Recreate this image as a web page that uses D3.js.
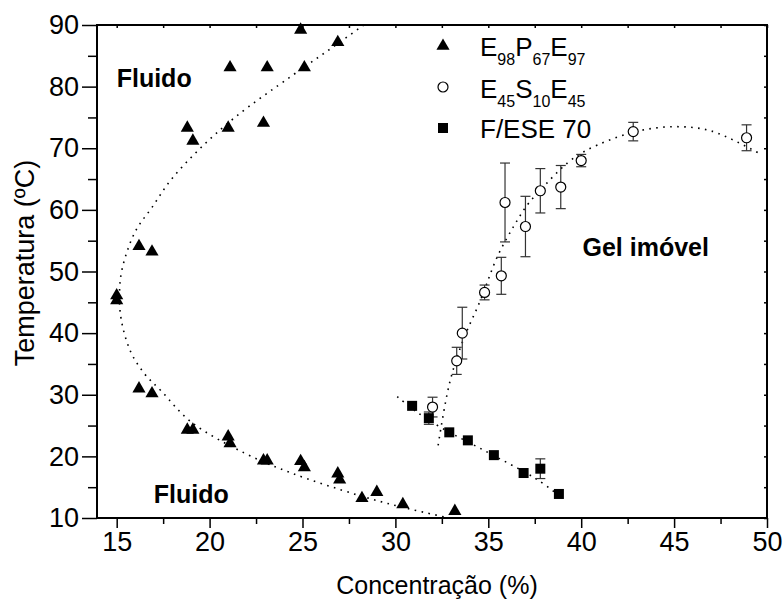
<!DOCTYPE html>
<html>
<head>
<meta charset="utf-8">
<script src="https://cdn.jsdelivr.net/npm/d3@7"></script>
<style>
body { margin: 0; background: #fff; }
text { font-family: "Liberation Sans", Arial, sans-serif; }
</style>
</head>
<body>
<div id="chart"></div>
<script>
// E98P67E97 points [conc, temp]
var triConc = [24.9, 26.9, 21.1, 23.1, 25.1, 18.8, 21.0, 22.9, 19.1, 16.2, 16.9, 15.0, 15.0, 16.2, 16.9, 18.8, 19.1, 21.0, 21.1, 22.9, 23.1, 24.9, 25.1, 26.9, 27.0, 28.2, 29.0, 30.4, 33.2];
var triTemp = [89.2, 87.2, 83.1, 83.1, 83.1, 73.3, 73.3, 74.1, 71.2, 54.1, 53.2, 46.1, 45.3, 31.0, 30.2, 24.3, 24.3, 23.2, 22.1, 19.3, 19.3, 19.2, 18.2, 17.2, 16.2, 13.2, 14.2, 12.2, 11.1];

// E45S10E45 points with error
var circConc = [32.0, 33.3, 33.6, 34.8, 35.7, 35.9, 37.0, 37.8, 38.9, 40.0, 42.8, 48.9];
var circTemp = [28.0, 35.5, 40.0, 46.6, 49.3, 61.2, 57.3, 63.1, 63.7, 68.0, 72.7, 71.7];
var circErr = [1.6, 2.2, 4.2, 1.2, 3.0, 6.4, 4.9, 3.6, 3.5, 1.0, 1.5, 2.1];

// F/ESE 70 points
var sqConc = [30.9, 31.8, 32.9, 33.9, 35.3, 36.9, 37.8, 38.8];
var sqTemp = [28.2, 26.2, 23.9, 22.6, 20.2, 17.3, 18.0, 13.9];
var sqErr = [0, 1.0, 0, 0, 0, 0, 1.6, 0];

// dotted fit curves
var fitTri = [[28.3, 90], [26.3, 85.7], [24.4, 81.7], [21.4, 75.1], [19.4, 69.7], [17.9, 64.8], [16.9, 60.4], [16.0, 56.5], [15.3, 50.5], [15.15, 46.5], [15.25, 42.1], [15.75, 37.0], [16.5, 33.4], [17.4, 30.6], [19.0, 25.6], [21.9, 20.5], [24.4, 17.3], [28.0, 13.7], [30.3, 11.8], [32.6, 10.2]];
var fitCirc = [[32.3, 21.8], [32.9, 31.7], [33.6, 38.5], [34.6, 45.5], [35.5, 52.5], [36.4, 57.5], [37.1, 60.8], [37.8, 63.2], [39.25, 67.6], [40.3, 69.7], [42.8, 72.6], [45.0, 73.5], [47.0, 72.8], [49.5, 69.3]];
var fitSq = [[30.1, 29.7], [31.2, 27.1], [32.5, 24.6], [35.0, 20.6], [37.6, 16.3], [39.0, 13.2]];

var xTicks = [15, 20, 25, 30, 35, 40, 45, 50];
var yTicks = [10, 20, 30, 40, 50, 60, 70, 80, 90];

var width = 783;
var height = 607;
var pLeft = 97, pRight = 767, pTop = 25, pBottom = 518;

var svg = d3.select("#chart").append("svg")
    .attr("width", width)
    .attr("height", height);

var x = d3.scaleLinear().domain([13.94, 50]).range([pLeft, pRight]);
var y = d3.scaleLinear().domain([10, 90]).range([pBottom, pTop]);

svg.append("clipPath").attr("id", "plot")
    .append("rect")
    .attr("x", pLeft).attr("y", pTop)
    .attr("width", pRight - pLeft).attr("height", pBottom - pTop);

//axes
var xMinor = d3.range(15, 50.1, 2.5).filter(function(d) { return d % 5 != 0; });
var yMinor = d3.range(15, 90, 10);

function axisStyle(g) {
    g.selectAll(".domain").remove();
    g.selectAll("line").attr("stroke", "#000").attr("stroke-width", 1.5);
    g.selectAll("text").attr("font-size", 27).attr("fill", "#000");
}

svg.append("g")
    .attr("transform", "translate(0," + pBottom + ")")
    .call(d3.axisBottom(x).tickValues(xTicks).tickSize(10).tickPadding(4).tickFormat(d3.format("d")))
    .call(axisStyle);
svg.append("g")
    .attr("transform", "translate(0," + pBottom + ")")
    .call(d3.axisBottom(x).tickValues(xMinor).tickSize(6).tickFormat(""))
    .call(axisStyle);
svg.append("g")
    .attr("transform", "translate(0," + pTop + ")")
    .call(d3.axisTop(x).tickValues(xTicks.concat(xMinor)).tickSize(-3).tickFormat(""))
    .call(axisStyle);

svg.append("g")
    .attr("transform", "translate(" + pLeft + ",0)")
    .call(d3.axisLeft(y).tickValues(yTicks).tickSize(15).tickPadding(3).tickFormat(d3.format("d")))
    .call(axisStyle);
svg.append("g")
    .attr("transform", "translate(" + pLeft + ",0)")
    .call(d3.axisLeft(y).tickValues(yMinor).tickSize(9).tickFormat(""))
    .call(axisStyle);
svg.append("g")
    .attr("transform", "translate(" + pRight + ",0)")
    .call(d3.axisRight(y).tickValues(yTicks.concat(yMinor)).tickSize(-3).tickFormat(""))
    .call(axisStyle);

svg.append("rect")
    .attr("x", pLeft).attr("y", pTop)
    .attr("width", pRight - pLeft).attr("height", pBottom - pTop)
    .attr("fill", "none")
    .attr("stroke", "#000")
    .attr("stroke-width", 2);

svg.append("text")
    .attr("x", 437)
    .attr("y", 594)
    .attr("text-anchor", "middle")
    .attr("font-size", 25)
    .text("Concentração (%)");

svg.append("text")
    .attr("transform", "translate(34,263) rotate(-90)")
    .attr("text-anchor", "middle")
    .attr("font-size", 27)
    .text("Temperatura (ºC)");

//fit lines
var line = d3.line()
    .x(function(d) { return x(d[0]); })
    .y(function(d) { return y(d[1]); })
    .curve(d3.curveCatmullRom);

var fits = svg.append("g").attr("clip-path", "url(#plot)");
[fitTri, fitCirc, fitSq].forEach(function(f) {
    fits.append("path")
        .attr("d", line(f))
        .attr("fill", "none")
        .attr("stroke", "#000")
        .attr("stroke-width", 1.6)
        .attr("stroke-dasharray", "1.6,5.4");
});

//error bars
function errorBars(conc, temp, err) {
    var g = svg.append("g").attr("stroke", "#333").attr("stroke-width", 1.2);
    conc.forEach(function(c, i) {
        if (!err[i]) return;
        var cx = x(c);
        var y1 = y(temp[i] + err[i]), y2 = y(temp[i] - err[i]);
        g.append("line").attr("x1", cx).attr("x2", cx).attr("y1", y1).attr("y2", y2);
        g.append("line").attr("x1", cx - 5).attr("x2", cx + 5).attr("y1", y1).attr("y2", y1);
        g.append("line").attr("x1", cx - 5).attr("x2", cx + 5).attr("y1", y2).attr("y2", y2);
    });
}
errorBars(circConc, circTemp, circErr);
errorBars(sqConc, sqTemp, sqErr);

var triSym = d3.symbol().type(d3.symbolTriangle).size(75);

svg.append("g").selectAll("path")
    .data(triConc)
    .enter()
    .append("path")
    .attr("d", triSym)
    .attr("transform", function(d, i) { return "translate(" + x(d) + "," + y(triTemp[i]) + ")"; })
    .attr("fill", "#000");

svg.append("g").selectAll("circle")
    .data(circConc)
    .enter()
    .append("circle")
    .attr("cx", function(d) { return x(d); })
    .attr("cy", function(d, i) { return y(circTemp[i]); })
    .attr("r", 5)
    .attr("fill", "#fff")
    .attr("stroke", "#000")
    .attr("stroke-width", 1.2);

svg.append("g").selectAll("rect")
    .data(sqConc)
    .enter()
    .append("rect")
    .attr("x", function(d) { return x(d) - 5; })
    .attr("y", function(d, i) { return y(sqTemp[i]) - 5; })
    .attr("width", 10)
    .attr("height", 10)
    .attr("fill", "#000");

//region labels, placed in data units (left edge, baseline)
var labels = [["Fluido", 15.0, 79.9], ["Fluido", 17.0, 12.4], ["Gel imóvel", 40.07, 52.5]];
svg.append("g").selectAll("text")
    .data(labels)
    .enter()
    .append("text")
    .attr("x", function(d) { return x(d[1]); })
    .attr("y", function(d) { return y(d[2]); })
    .attr("font-size", 25)
    .attr("font-weight", "bold")
    .text(function(d) { return d[0]; });

//legend
var legend = svg.append("g").attr("font-size", 26);
legend.append("path")
    .attr("d", triSym)
    .attr("transform", "translate(443,46)");
legend.append("circle")
    .attr("cx", 443).attr("cy", 87).attr("r", 5)
    .attr("fill", "#fff").attr("stroke", "#000").attr("stroke-width", 1.2);
legend.append("rect")
    .attr("x", 438).attr("y", 123).attr("width", 10).attr("height", 10);

function legendText(yy, parts) {
    var t = legend.append("text").attr("x", 480).attr("y", yy);
    parts.forEach(function(p) {
        t.append("tspan")
            .attr("font-size", p[1] ? 16 : 26)
            .attr("dy", p[1] ? 9 : (t.selectAll("tspan").size() > 1 ? -9 : 0))
            .text(p[0]);
    });
}
legendText(56, [["E", 0], ["98", 1], ["P", 0], ["67", 1], ["E", 0], ["97", 1]]);
legendText(98, [["E", 0], ["45", 1], ["S", 0], ["10", 1], ["E", 0], ["45", 1]]);
legendText(138, [["F/ESE 70", 0]]);
</script>
</body>
</html>
